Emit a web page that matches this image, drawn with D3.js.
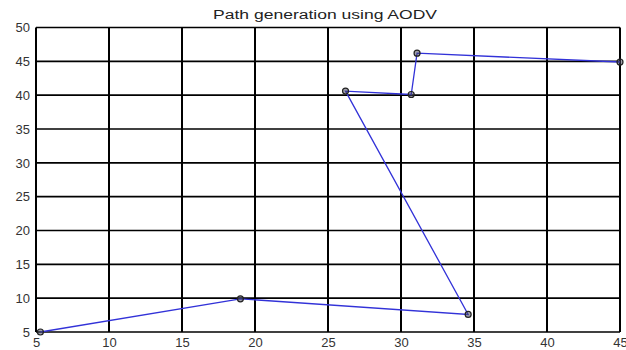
<!DOCTYPE html>
<html>
<head>
<meta charset="utf-8">
<script src="https://cdn.jsdelivr.net/npm/d3@7"></script>
<style>
    body { margin: 0; background: #fff; }
    svg { display: block; }
</style>
</head>
<body>
<div id="chart"></div>
<script>
// route found by AODV, node coordinates in visiting order
var pathX = [5.3, 19.0, 34.6, 26.2, 30.7, 31.1, 45.0];
var pathY = [5.0, 9.9, 7.6, 40.6, 40.1, 46.2, 44.9];
var xTicks = [5, 10, 15, 20, 25, 30, 35, 40, 45];
var yTicks = [5, 10, 15, 20, 25, 30, 35, 40, 45, 50];
var titleText = 'Path generation using AODV';

var width = 626, height = 350;
var margin = { top: 27.5, right: 6, bottom: 18, left: 36 };

var svg = d3.select('#chart')
    .append('svg')
    .attr('width', width)
    .attr('height', height);

var x = d3.scaleLinear()
    .domain([5, 45])
    .range([margin.left, width - margin.right]);
var y = d3.scaleLinear()
    .domain([5, 50])
    .range([height - margin.bottom, margin.top]);

// grid
svg.append('g')
    .selectAll('line')
    .data(xTicks)
    .enter()
    .append('line')
    .attr('x1', function (d) { return x(d); })
    .attr('x2', function (d) { return x(d); })
    .attr('y1', y(5))
    .attr('y2', y(50))
    .attr('stroke', '#000')
    .attr('stroke-width', 2);

svg.append('g')
    .selectAll('line')
    .data(yTicks)
    .enter()
    .append('line')
    .attr('x1', x(5))
    .attr('x2', x(45))
    .attr('y1', function (d) { return y(d); })
    .attr('y2', function (d) { return y(d); })
    .attr('stroke', '#000')
    .attr('stroke-width', 1.6);

// axes (labels only, the grid already draws the box)
var xAxis = svg.append('g')
    .attr('transform', 'translate(0,' + y(5) + ')')
    .call(d3.axisBottom(x).tickValues(xTicks).tickSize(0).tickPadding(6));
var yAxis = svg.append('g')
    .attr('transform', 'translate(' + x(5) + ',0)')
    .call(d3.axisLeft(y).tickValues(yTicks).tickSize(0).tickPadding(6));

[xAxis, yAxis].forEach(function (ax) {
    ax.select('.domain').remove();
    ax.selectAll('text')
        .attr('fill', '#333')
        .attr('font-family', 'Liberation Sans, Arial, sans-serif')
        .attr('font-size', 13);
});

// title (the original is drawn wide and stretched)
svg.append('text')
    .attr('x', 213)
    .attr('y', 19)
    .attr('fill', '#222')
    .attr('font-family', 'Liberation Sans, Arial, sans-serif')
    .attr('font-size', 12.5)
    .attr('textLength', 224)
    .attr('lengthAdjust', 'spacingAndGlyphs')
    .text(titleText);

// route
var points = pathX.map(function (d, i) { return [d, pathY[i]]; });

var line = d3.line()
    .x(function (d) { return x(d[0]); })
    .y(function (d) { return y(d[1]); });

svg.append('path')
    .datum(points)
    .attr('d', line)
    .attr('fill', 'none')
    .attr('stroke', '#3232d8')
    .attr('stroke-width', 1.3);

// node markers
svg.append('g')
    .selectAll('circle')
    .data(points)
    .enter()
    .append('circle')
    .attr('cx', function (d) { return x(d[0]); })
    .attr('cy', function (d) { return y(d[1]); })
    .attr('r', 3)
    .attr('fill', '#445')
    .attr('fill-opacity', 0.5)
    .attr('stroke', '#222')
    .attr('stroke-width', 1.2);
</script>
</body>
</html>
